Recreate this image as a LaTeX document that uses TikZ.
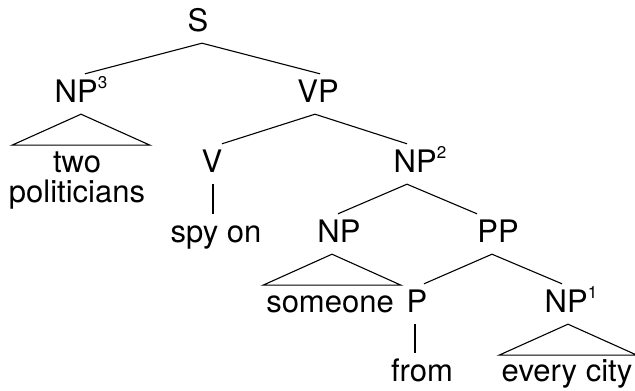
\documentclass[tikz,border=0pt]{standalone}
\usepackage{fontspec}
\setmainfont{TeX Gyre Heros}
\newcommand\supix[1]{\raisebox{14pt}{\fontsize{17}{17}\selectfont #1}}
\begin{document}
\begin{tikzpicture}[x=1pt,y=1pt,
  lbl/.style={font=\fontsize{31}{30}\selectfont, inner xsep=0pt, inner ysep=7pt,
    text height=22pt, text depth=4pt, anchor=base},
  multi/.style={font=\fontsize{31}{30}\selectfont, inner sep=0pt, align=center, anchor=base},
  edge/.style={line width=1.1pt, line join=miter},
]
\useasboundingbox (0,0) rectangle (635,391);
\node[lbl] (S) at (198,359) {S};
\node[lbl] (NP3) at (81,288) {NP\supix{3}};
\node[lbl] (VP) at (318,288) {VP};
\node[multi] (tp) at (77,188) {two\\politicians};
\node[lbl] (V) at (212,218) {V};
\node[lbl] (NP2) at (420,218) {NP\supix{2}};
\node[lbl] (spy) at (216,148) {spy on};
\node[lbl] (NP) at (339,148) {NP};
\node[lbl] (PP) at (498,148) {PP};
\node[lbl] (someone) at (330,78) {someone};
\node[lbl] (P) at (417,78) {P};
\node[lbl] (NP1) at (571,78) {NP\supix{1}};
\node[lbl] (from) at (422,9) {from};
\node[lbl] (every) at (567,9) {every city};

\draw[edge] ([xshift=4pt]S.south) -- ([xshift=4pt]NP3.north);
\draw[edge] ([xshift=4pt]S.south) -- ([xshift=2pt]VP.north);
\draw[edge] ([xshift=-3pt]VP.south) -- ([xshift=10pt]V.north);
\draw[edge] ([xshift=-3pt]VP.south) -- ([xshift=-13pt]NP2.north);
\draw[edge] ([xshift=-13pt]NP2.south) -- ([xshift=-1pt]NP.north);
\draw[edge] ([xshift=-13pt]NP2.south) -- ([xshift=-21pt]PP.north);
\draw[edge] ([xshift=-6pt]PP.south) -- ([xshift=7pt]P.north);
\draw[edge] ([xshift=-6pt]PP.south) -- ([xshift=-9pt]NP1.north);
\draw[edge] ([xshift=1pt]V.south) -- ([xshift=-3pt]spy.north);
\draw[edge] ([xshift=-2pt]P.south) -- ([xshift=-7pt]from.north);

\draw[edge] (NP3.south) -- ++(-69,-31) -- ++(138,0) -- cycle;
\draw[edge] ([xshift=-7pt]NP.south) -- ++(-69,-31) -- ++(138,0) -- cycle;
\draw[edge] ([xshift=-3pt]NP1.south) -- ++(-69,-31) -- ++(138,0) -- cycle;
\end{tikzpicture}
\end{document}
